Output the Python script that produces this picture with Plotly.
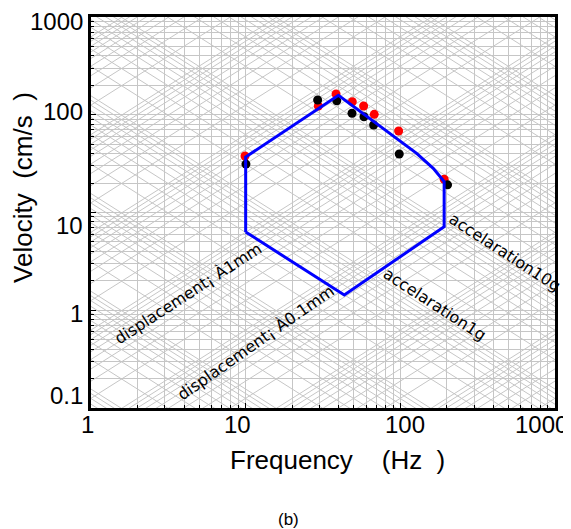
import numpy as np
import plotly.graph_objects as go

# ---------------- data ----------------
red_freq = [9.90, 29.5, 38.4, 48.9, 57.9, 67.8, 97.5, 192.0]
red_vel = [37.8, 122.9, 163.0, 136.0, 122.9, 101.0, 68.2, 21.9]

black_freq = [10.04, 29.2, 38.8, 48.7, 58.2, 67.2, 98.4, 202.0]
black_vel = [31.3, 141.6, 139.2, 103.5, 95.5, 78.5, 39.7, 19.2]

env_freq = [10.0, 10.0, 39.8, 96.9, 127.5, 163.2, 192.0, 192.0, 43.4, 10.0]
env_vel = [6.32, 37.0, 158.0, 56.1, 40.3, 28.3, 20.7, 7.16, 1.43, 6.32]

x_tick_vals = [1, 10, 100, 1000]
x_tick_text = ["1", "10", "100", "1000"]
y_tick_vals = [0.1, 1, 10, 100, 1000]
y_tick_text = ["0.1", "1", "10", "100", "1000"]

# diagonal reference grid levels
disp_mantissa = list(range(1, 10))
disp_decades_mm = list(range(-5, 5))      # displacement levels in mm
accel_mantissa = list(range(1, 10))
accel_decades_g = list(range(-4, 5))      # acceleration levels in g

labels = [
    # text, log10 f, log10 v, angle
    ("displacement¡ À1mm", 0.627, 0.1765, -33),
    ("displacement¡ À0.1mm", 1.0666, -0.3248, -35),
    ("accelaration10g", 2.676, 0.586, 33),
    ("accelaration1g", 2.2237, 0.054, 33),
]

# ---------------- figure ----------------
GRID = "#c6c6c6"
fig = go.Figure()

fr = [0.1, 1e4]
gx, gy = [], []
for k in disp_decades_mm:
    for m in disp_mantissa:
        d_cm = m * 10.0 ** k / 10.0
        gx += [fr[0], fr[1], None]
        gy += [2 * np.pi * fr[0] * d_cm, 2 * np.pi * fr[1] * d_cm, None]
for k in accel_decades_g:
    for m in accel_mantissa:
        a_cm = m * 10.0 ** k * 981.0
        gx += [fr[0], fr[1], None]
        gy += [a_cm / (2 * np.pi * fr[0]), a_cm / (2 * np.pi * fr[1]), None]

fig.add_trace(go.Scatter(x=gx, y=gy, mode="lines", line=dict(color=GRID, width=1),
                         hoverinfo="skip", showlegend=False))

fig.add_trace(go.Scatter(x=red_freq, y=red_vel, mode="markers",
                         marker=dict(color="#ff0000", size=9), showlegend=False))
fig.add_trace(go.Scatter(x=black_freq, y=black_vel, mode="markers",
                         marker=dict(color="#000000", size=9), showlegend=False))
fig.add_trace(go.Scatter(x=env_freq, y=env_vel, mode="lines",
                         line=dict(color="#0000ff", width=3), showlegend=False))

minor_x = [m * 10 ** k for k in range(0, 3) for m in range(2, 10)]
minor_y = [m * 10.0 ** k for k in range(-1, 3) for m in range(2, 10)]

fig.update_xaxes(type="log", range=[0, 3], tickvals=x_tick_vals, showticklabels=False,
                 showgrid=True, gridcolor=GRID, gridwidth=1,
                 showline=True, linecolor="black", linewidth=3, mirror=True,
                 ticks="inside", ticklen=5, tickcolor="black", zeroline=False,
                 minor=dict(tickmode="array", tickvals=minor_x, showgrid=True,
                            gridcolor=GRID, gridwidth=1, ticks="inside", ticklen=3,
                            tickcolor="black"))
fig.update_yaxes(type="log", range=[-1, 3], tickvals=y_tick_vals, showticklabels=False,
                 showgrid=True, gridcolor=GRID, gridwidth=1,
                 showline=True, linecolor="black", linewidth=3, mirror=True,
                 ticks="inside", ticklen=5, tickcolor="black", zeroline=False,
                 minor=dict(tickmode="array", tickvals=minor_y, showgrid=True,
                            gridcolor=GRID, gridwidth=1, ticks="inside", ticklen=3,
                            tickcolor="black"))

TICKFONT = dict(family="Liberation Sans, Arial, sans-serif", size=24, color="black")
anns = []
x_shifts = [-4, -8, 5, -14]
for v, t, s in zip(x_tick_vals, x_tick_text, x_shifts):
    anns.append(dict(x=np.log10(v), y=-0.043, xref="x", yref="paper", text=t,
                     showarrow=False, xanchor="center", yanchor="middle",
                     xshift=s, font=TICKFONT))
y_shifts = [13, -3, -13, 3, -4]
for v, t, s in zip(y_tick_vals, y_tick_text, y_shifts):
    anns.append(dict(x=-0.012, y=np.log10(v), xref="paper", yref="y", text=t,
                     showarrow=False, xanchor="right", yanchor="middle",
                     yshift=s, font=TICKFONT))

for txt, lx, ly, ang in labels:
    anns.append(dict(x=lx, y=ly, xref="x", yref="y", text=txt, showarrow=False,
                     textangle=ang, xanchor="center", yanchor="middle",
                     font=dict(family="DejaVu Sans, sans-serif", size=16, color="black")))

TITLEFONT = dict(family="Liberation Sans, Arial, sans-serif", size=26, color="black")
anns.append(dict(x=0.532, y=-0.133, xref="paper", yref="paper",
                 text="Frequency\u00a0\u00a0\u00a0\u00a0(Hz\u00a0\u00a0)", showarrow=False,
                 xanchor="center", yanchor="middle", font=TITLEFONT))
anns.append(dict(x=-0.147, y=0.565, xref="paper", yref="paper",
                 text="Velocity\u00a0\u00a0(cm/s\u00a0\u00a0)", showarrow=False, textangle=-90,
                 xanchor="center", yanchor="middle", font=TITLEFONT))
anns.append(dict(x=0.426, y=-0.284, xref="paper", yref="paper", text="(b)",
                 showarrow=False, xanchor="center", yanchor="middle",
                 font=dict(family="Liberation Sans, Arial, sans-serif", size=17, color="black")))

# the page adds an 8 px body margin, so the figure is 8 px smaller on each axis
fig.update_layout(width=563, height=521, template="none",
                  margin=dict(l=83, r=16, t=9, b=121),
                  paper_bgcolor="white", plot_bgcolor="white",
                  showlegend=False, annotations=anns)

fig.write_html("out.html")
